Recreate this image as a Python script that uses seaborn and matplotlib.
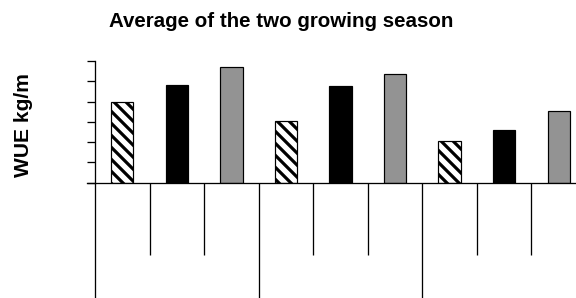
import matplotlib
matplotlib.use("Agg")
import matplotlib.pyplot as plt
import seaborn as sns
import pandas as pd
from matplotlib.ticker import FixedLocator, NullFormatter

# ---- data ----
groups = ["G1", "G1", "G1", "G2", "G2", "G2", "G3", "G3", "G3"]
treatments = ["T1", "T2", "T3", "T1", "T2", "T3", "T1", "T2", "T3"]
slots = ["G1-T1", "G1-T2", "G1-T3", "G2-T1", "G2-T2", "G2-T3", "G3-T1", "G3-T2", "G3-T3"]
wue = [4.0, 4.83, 5.72, 3.04, 4.76, 5.36, 2.07, 2.58, 3.54]
yticks = [0, 1, 2, 3, 4, 5, 6]
title = "Average of the two growing season"
ylabel = "WUE kg/m"

df = pd.DataFrame({"slot": slots, "group": groups, "treatment": treatments, "wue": wue})

sns.set_theme(style="white")
plt.rcParams["font.family"] = ["Liberation Sans", "DejaVu Sans"]
plt.rcParams["hatch.linewidth"] = 3.2
plt.rcParams["hatch.color"] = "black"

W, H, DPI = 576, 298, 72
fig = plt.figure(figsize=(W / DPI, H / DPI), dpi=DPI)
ax = fig.add_axes([95 / W, (H - 182.5) / H, 491 / W, 121.5 / H])

palette = {"T1": "white", "T2": "black", "T3": "#939393"}
sns.barplot(data=df, x="slot", y="wue", hue="treatment", order=slots,
            hue_order=["T1", "T2", "T3"], palette=palette, dodge=False,
            width=0.41, edgecolor="black", linewidth=1.2, legend=False,
            saturation=1, ax=ax)
for bar in ax.containers[0]:
    bar.set_hatch("\\\\")

ax.set_xlim(-0.5, 8.5)
ax.set_ylim(0, 6)
ax.set_yticks(yticks)
ax.yaxis.set_major_formatter(NullFormatter())
ax.tick_params(axis="y", direction="out", length=8, width=1.3, color="black", left=True)

ax.xaxis.set_major_locator(FixedLocator([-0.5, 2.5, 5.5, 8.5]))
ax.xaxis.set_minor_locator(FixedLocator([0.5, 1.5, 3.5, 4.5, 6.5, 7.5]))
ax.xaxis.set_major_formatter(NullFormatter())
ax.xaxis.set_minor_formatter(NullFormatter())
ax.tick_params(axis="x", which="major", direction="out", length=115, width=1.3, color="black", bottom=True)
ax.tick_params(axis="x", which="minor", direction="out", length=71.5, width=1.3, color="black", bottom=True)

for s in ["top", "right"]:
    ax.spines[s].set_visible(False)
for s in ["left", "bottom"]:
    ax.spines[s].set_color("black")
    ax.spines[s].set_linewidth(1.3)
ax.spines["bottom"].set_bounds(-0.5 - 8 / 54.56, 8.5)
ax.grid(False)

ax.set_xlabel("")
ax.set_ylabel(ylabel, fontsize=21, fontweight="bold", color="black")
ax.yaxis.set_label_coords((33 - 95) / 491, (182.5 - 125.5) / 121.5)

fig.text(281.5 / W, 1 - 26.7 / H, title, ha="center", va="baseline",
         fontsize=20.5, fontweight="bold", color="black")

fig.savefig("out.png", dpi=DPI)
